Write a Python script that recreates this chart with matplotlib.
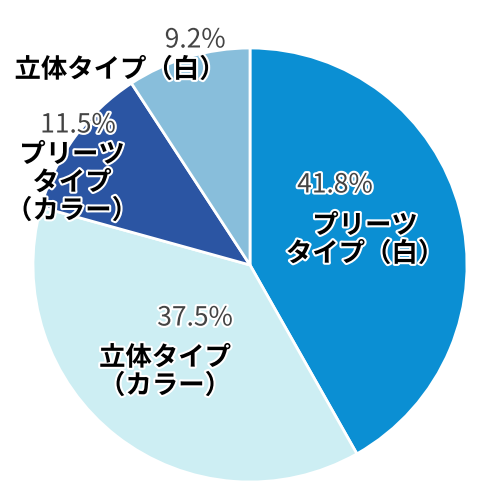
import matplotlib.pyplot as plt
import matplotlib.patheffects as pe

plt.rcParams['font.family'] = ['Noto Sans CJK JP', 'DejaVu Sans']

labels = ['プリーツ\nタイプ（白）', '立体タイプ\n（カラー）', 'プリーツ\nタイプ\n（カラー）', '立体タイプ（白）']
values = [41.8, 37.5, 11.5, 9.2]
colors = ['#0b8fd3', '#cdeef3', '#2b55a3', '#88bedb']

fig = plt.figure(figsize=(5, 5), dpi=100)
ax = fig.add_axes([0, 0, 1, 1])

ax.pie(values, colors=colors, startangle=90, counterclock=False,
       center=(250, 235), radius=217,
       wedgeprops=dict(edgecolor='white', linewidth=2))
ax.set_xlim(0, 500)
ax.set_ylim(0, 500)
ax.set_aspect('equal')
ax.axis('off')

# label positions in pixels from the top-left (pct, name)
pos = [((335, 185), (365, 240)),
       ((195, 318), (165, 372)),
       ((78, 125), (72, 183)),
       ((195, 40), (120, 70))]
stroke = [pe.withStroke(linewidth=3, foreground='white')]
for v, lab, (p1, p2) in zip(values, labels, pos):
    ax.text(p1[0], 500 - p1[1], f'{v}%', ha='center', va='center',
            fontsize=19, color='#444444', path_effects=stroke)
    ax.text(p2[0], 500 - p2[1], lab, ha='center', va='center', fontsize=19,
            fontweight='bold', color='black', linespacing=1.05,
            path_effects=stroke)

fig.savefig('out.png')
